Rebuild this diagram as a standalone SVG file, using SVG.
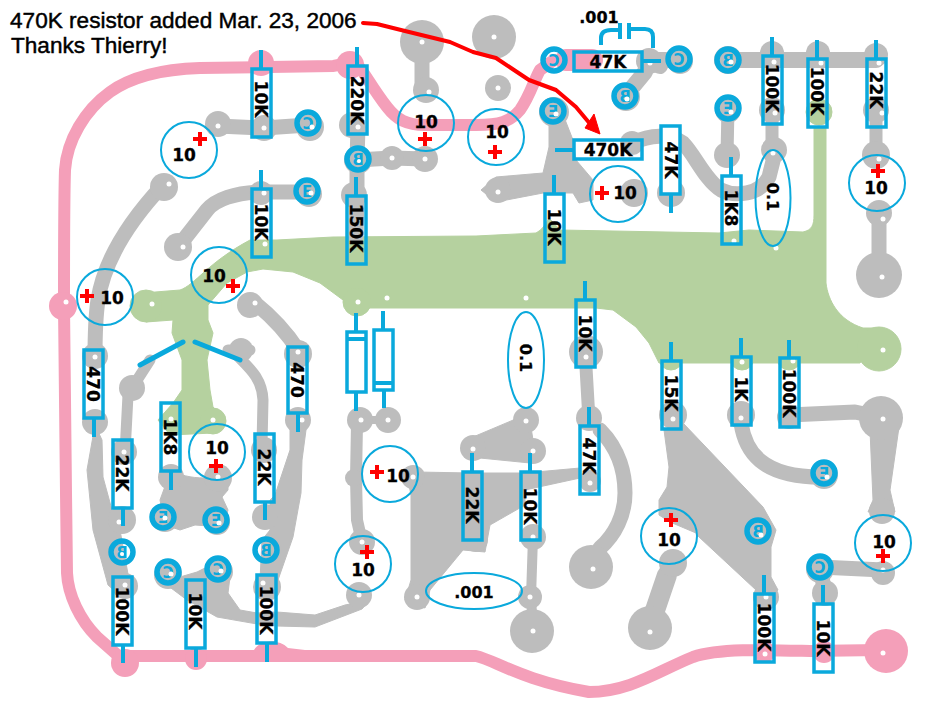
<svg xmlns="http://www.w3.org/2000/svg" xmlns:xlink="http://www.w3.org/1999/xlink" width="952" height="720" viewBox="0 0 952 720">
<style>
.bg{fill:#fff}
.pk{fill:none;stroke:#f49fb9;stroke-width:12;stroke-linejoin:round;stroke-linecap:round}
.pf{fill:#f49fb9}
.gn{fill:#b5d19f;stroke:#b5d19f;stroke-width:1;stroke-linejoin:round}
.gy{fill:none;stroke:#bdbdbd;stroke-width:15;stroke-linejoin:round;stroke-linecap:round}
.gf{fill:#bdbdbd;stroke:#bdbdbd;stroke-width:1;stroke-linejoin:round}
.h{fill:#fff}
.r{fill:none;stroke:#0aa9dc;stroke-width:3.5}
.rw{fill:#fff;stroke:#0aa9dc;stroke-width:3.5}
.l{fill:none;stroke:#0aa9dc;stroke-width:4}
.c{fill:none;stroke:#0aa9dc;stroke-width:2}
.q{fill:none;stroke:#0aa9dc;stroke-width:5.5}
.t{font-family:"DejaVu Sans",sans-serif;font-weight:700;font-size:17px;fill:#000;stroke:#000;stroke-width:.3;text-anchor:middle}
.s{font-size:16px}
.ql{font-family:"DejaVu Sans",sans-serif;font-weight:700;font-size:15px;fill:#0aa9dc;text-anchor:middle}
.n{font-family:"Liberation Sans",Arial,sans-serif;font-size:22.6px;fill:#000;stroke:#000;stroke-width:.45}
.plus{stroke:#f00;stroke-width:4;fill:none}
.arrow{fill:none;stroke:#f00;stroke-width:4;stroke-linejoin:round;stroke-linecap:round}
</style>
<defs>
<path id="pl" class="plus" d="M-7,0H7M0,-7V7"/>
</defs>
<rect class="bg" width="952" height="720"/>

<g id="pink-traces">
<path class="pk" d="M64,306C64,250 64,200 65,170C67,140 85,110 110,92C135,74 170,69 200,68L333,66C345,65 350,58 355,62C362,68 372,88 387,107C397,120 407,125 425,125H476C500,125 510,122 520,110C530,96 535,78 540,70L554,60"/>
<path class="pk" d="M64,306L66,493L67,573C68,595 80,620 97,637L123,660"/>
<path class="pk" d="M125,656H476C495,660 520,680 589,692C630,692 660,670 693,657C720,648 770,650 810,651L880,650"/>
<path class="pk" style="stroke-width:22" d="M566,60H592"/>
<circle class="pf" cx="63" cy="306" r="14"/>
<circle class="pf" cx="261" cy="63" r="13"/>
<circle class="pf" cx="350" cy="65" r="14"/>
<circle class="pf" cx="125" cy="663" r="14"/>
<circle class="pf" cx="196" cy="659" r="11"/>
<path class="pf" d="M253,652C258,640 278,638 288,648L305,650V662H253Z"/>
<circle class="pf" cx="886" cy="651" r="22"/>
<circle class="pf" cx="764" cy="652" r="11"/>
<circle class="pf" cx="824" cy="652" r="11"/>
</g>

<g id="green-plane">
<path class="gn" d="M143,293L180,290C195,285 207,263 250,240H277L333,237L476,236L536,233C542,230 545,225 549,218L560,230L719,233L749,230L803,232C812,230 814,225 814,215V127H826V283C828,300 838,320 863,328H883L860,363H659L649,343L636,327L613,310L596,308L367,308L343,300L320,283L293,272L263,269L247,272L227,283L208,305V320L213,333L207,360L210,390L213,407L226,420L213,433L170,435L158,420L173,403L182,390V360L172,333L173,320L146,322L130,305Z"/>
<circle class="gn" cx="146" cy="306" r="16"/>
<circle class="gn" cx="357" cy="302" r="14"/>
<circle class="gn" cx="819" cy="112" r="13"/>
<circle class="gn" cx="879" cy="349" r="22"/>
<circle class="gn" cx="213" cy="421" r="13"/>
<circle class="gn" cx="742" cy="358" r="12"/>
<circle class="gn" cx="789" cy="358" r="12"/>
<circle class="gn" cx="671" cy="358" r="12"/>
</g>

<g id="gray-traces">
<path class="gy" d="M422,42V90"/>
<path class="gy" d="M218,126L264,128L308,125"/>
<path class="gy" d="M358,127L357,160V195L356,236"/>
<path class="gy" d="M308,192H263C235,192 215,200 207,210L178,247"/>
<path class="gy" d="M357,160L392,158L425,159"/>
<path class="gy" d="M163,185C135,215 105,255 98,300C95,320 95,340 95,357"/>
<path class="gy" d="M255,303C270,315 285,330 298,350"/>
<path class="gy" style="stroke-width:11" d="M132,388L150,360M128,395L125,453"/>
<path class="gy" style="stroke-width:11" d="M228,350H250M232,350C245,365 262,375 263,400L262,445"/>
<path class="gf" d="M95,425L87,470L93,530L108,585L125,600L130,585L120,530L112,510L103,477L102,440Z"/>
<path class="gf" d="M290,430H306L302,460L301,493L293,537L278,580H260L262,540L270,530V500L275,495L290,450Z"/>
<path class="gf" d="M171,470C180,475 190,478 205,478C212,478 220,474 228,470L228,490L222,497L228,510L223,527L195,525L180,530L165,525L160,500Z"/>
<path class="gf" d="M163,582L180,577L197,572L207,567L230,577L228,593L240,610L257,613L277,612L315,615L345,605L370,600L362,609L315,627L277,626L257,624L217,617L187,600Z"/>
<path class="gy" style="stroke-width:12" d="M357,424L356,478L357,520L362,542"/>
<path class="gy" style="stroke-width:8" d="M360,420H388"/>
<path class="gf" d="M473,437L518,418L530,421L533,440L540,451L530,463L480,458Z"/>
<path class="gf" d="M417,472L470,473H525L525,505L490,525L485,552L463,550L430,590L425,608L405,600L411,580V495L408,480Z"/>
<path class="gf" d="M525,473L580,468V478L525,490Z"/>
<path class="gy" style="stroke-width:10" d="M533,537L531,597L533,631"/>
<path class="gy" style="stroke-width:13" d="M585,350L589,420"/>
<path class="gy" d="M600,430C620,450 625,475 625,493C625,515 615,535 600,548"/>
<path class="gf" d="M664,430L669,467L667,487L659,500L659,515L670,522L696,533L699,537L756,590L765,600L778,590L771,577V547L776,530L763,507L683,423Z"/>
<path class="gy" style="stroke-width:20" d="M667,575L650,625"/>
<path class="gy" d="M741,423C745,450 760,478 824,477"/>
<path class="gy" d="M789,415L855,412L883,418"/>
<path class="gf" d="M870,430L873,500L868,512H895L890,490L900,420Z"/>
<path class="gy" d="M820,567L883,570M820,567L825,593"/>
<path class="gy" style="stroke-width:16" d="M626,95L645,72M649,60H679M648,62L660,66"/>
<path class="gy" style="stroke-width:16" d="M728,60H876"/>
<path class="gf" d="M549,120V147L543,173L496,177L481,190L496,202L543,193H573L579,203L593,200V180L576,160L573,140L564,117Z"/>
<path class="gy" d="M632,143C650,135 670,133 683,143C695,155 705,180 721,190C735,197 760,195 769,177L775,153"/>
<path class="gy" style="stroke-width:13" d="M772,110V150"/>
<path class="gy" style="stroke-width:13" d="M728,108L727,155"/>
<path class="gy" style="stroke-width:13" d="M876,110V155"/>
<path class="gy" d="M879,213V275"/>
<g class="gf" style="stroke:none">
<circle cx="494" cy="37" r="22"/><circle cx="498" cy="88" r="13"/>
<circle cx="422" cy="42" r="22"/><circle cx="426" cy="90" r="13"/>
<circle cx="218" cy="124" r="13"/><circle cx="264" cy="128" r="13"/><circle cx="310" cy="127" r="14"/>
<circle cx="352" cy="125" r="13"/><circle cx="358" cy="160" r="14"/><circle cx="354" cy="195" r="13"/>
<circle cx="392" cy="158" r="12"/><circle cx="425" cy="159" r="13"/>
<circle cx="164" cy="187" r="14"/><circle cx="178" cy="247" r="14"/>
<circle cx="261" cy="193" r="12"/><circle cx="309" cy="194" r="13"/>
<circle cx="250" cy="305" r="13"/><circle cx="298" cy="354" r="14"/><circle cx="298" cy="420" r="13"/>
<circle cx="95" cy="356" r="13"/><circle cx="95" cy="422" r="13"/>
<circle cx="132" cy="388" r="13"/><circle cx="124" cy="452" r="13"/><circle cx="122" cy="520" r="14"/><circle cx="125" cy="586" r="13"/>
<circle cx="241" cy="350" r="12"/><circle cx="264" cy="450" r="13"/><circle cx="265" cy="517" r="13"/><circle cx="267" cy="587" r="14"/>
<circle cx="171" cy="477" r="13"/><circle cx="218" cy="478" r="14"/><circle cx="165" cy="518" r="14"/><circle cx="217" cy="522" r="13"/>
<circle cx="168" cy="575" r="14"/><circle cx="219" cy="572" r="14"/><circle cx="359" cy="595" r="13"/>
<circle cx="360" cy="420" r="13"/><circle cx="388" cy="420" r="13"/><circle cx="354" cy="478" r="9"/><circle cx="362" cy="542" r="13"/>
<circle cx="417" cy="597" r="13"/><circle cx="413" cy="477" r="12"/><circle cx="473" cy="448" r="13"/>
<circle cx="526" cy="420" r="13"/><circle cx="533" cy="451" r="13"/><circle cx="476" cy="540" r="12"/><circle cx="533" cy="537" r="13"/><circle cx="530" cy="597" r="12"/><circle cx="532" cy="631" r="22"/>
<circle cx="586" cy="352" r="17"/><circle cx="589" cy="418" r="13"/><circle cx="590" cy="481" r="11"/><circle cx="591" cy="567" r="22"/>
<circle cx="673" cy="415" r="14"/><circle cx="650" cy="628" r="22"/><circle cx="673" cy="563" r="14"/>
<circle cx="741" cy="415" r="14"/><circle cx="789" cy="417" r="12"/><circle cx="881" cy="418" r="22"/><circle cx="824" cy="475" r="14"/>
<circle cx="882" cy="511" r="13"/><circle cx="883" cy="573" r="12"/><circle cx="820" cy="569" r="14"/><circle cx="825" cy="593" r="13"/>
<circle cx="759" cy="533" r="14"/><circle cx="766" cy="597" r="13"/>
<circle cx="554" cy="112" r="15"/><circle cx="498" cy="190" r="13"/><circle cx="634" cy="193" r="14"/><circle cx="632" cy="143" r="12"/><circle cx="671" cy="193" r="14"/>
<circle cx="626" cy="97" r="14"/><circle cx="649" cy="61" r="13"/><circle cx="680" cy="61" r="13"/>
<circle cx="728" cy="60" r="14"/><circle cx="772" cy="53" r="12"/><circle cx="818" cy="53" r="12"/><circle cx="876" cy="55" r="12"/>
<circle cx="772" cy="110" r="13"/><circle cx="774" cy="150" r="13"/><circle cx="728" cy="110" r="13"/><circle cx="727" cy="155" r="13"/>
<circle cx="876" cy="110" r="13"/><circle cx="876" cy="155" r="14"/><circle cx="879" cy="213" r="13"/><circle cx="879" cy="275" r="23"/>
</g>
</g>

<g id="holes" class="h">
<circle cx="218" cy="126" r="2.5"/><circle cx="264" cy="128" r="2.5"/><circle cx="358" cy="127" r="2.5"/><circle cx="392" cy="158" r="2.5"/><circle cx="425" cy="159" r="2.5"/><circle cx="422" cy="42" r="2.5"/><circle cx="429" cy="92" r="2.5"/><circle cx="169" cy="184" r="2.5"/><circle cx="183" cy="247" r="2.5"/><circle cx="264" cy="193" r="2.5"/><circle cx="265" cy="244" r="2.5"/><circle cx="255" cy="303" r="2.5"/><circle cx="358" cy="302" r="2.5"/><circle cx="387" cy="298" r="2.5"/><circle cx="152" cy="304" r="2.5"/><circle cx="66" cy="302" r="2.5"/>
<circle cx="494" cy="37" r="2.5"/><circle cx="498" cy="88" r="2.5"/><circle cx="650" cy="63" r="2.5"/><circle cx="774" cy="62" r="2.5"/><circle cx="821" cy="63" r="2.5"/><circle cx="879" cy="63" r="2.5"/><circle cx="775" cy="113" r="2.5"/><circle cx="882" cy="113" r="2.5"/><circle cx="773" cy="153" r="2.5"/><circle cx="879" cy="159" r="2.5"/><circle cx="883" cy="219" r="2.5"/><circle cx="882" cy="277" r="2.5"/><circle cx="734" cy="241" r="2.5"/><circle cx="776" cy="248" r="2.5"/><circle cx="526" cy="298" r="2.5"/><circle cx="883" cy="350" r="2.5"/><circle cx="498" cy="192" r="2.5"/>
<circle cx="95" cy="357" r="2.5"/><circle cx="302" cy="420" r="2.5"/><circle cx="298" cy="352" r="2.5"/><circle cx="124" cy="452" r="2.5"/><circle cx="119" cy="522" r="2.5"/><circle cx="125" cy="585" r="2.5"/><circle cx="171" cy="419" r="2.5"/><circle cx="213" cy="420" r="2.5"/><circle cx="218" cy="477" r="2.5"/><circle cx="263" cy="583" r="2.5"/><circle cx="361" cy="420" r="2.5"/><circle cx="388" cy="420" r="2.5"/><circle cx="362" cy="542" r="2.5"/><circle cx="359" cy="595" r="2.5"/><circle cx="413" cy="477" r="2.5"/><circle cx="417" cy="597" r="2.5"/><circle cx="473" cy="449" r="2.5"/>
<circle cx="526" cy="421" r="2.5"/><circle cx="533" cy="451" r="2.5"/><circle cx="533" cy="537" r="2.5"/><circle cx="530" cy="597" r="2.5"/><circle cx="533" cy="631" r="2.5"/><circle cx="590" cy="483" r="2.5"/><circle cx="593" cy="569" r="2.5"/><circle cx="586" cy="357" r="2.5"/><circle cx="673" cy="419" r="2.5"/><circle cx="650" cy="632" r="2.5"/><circle cx="741" cy="418" r="2.5"/><circle cx="883" cy="419" r="2.5"/><circle cx="766" cy="597" r="2.5"/><circle cx="765" cy="654" r="2.5"/><circle cx="883" cy="653" r="2.5"/><circle cx="742" cy="362" r="2.5"/><circle cx="793" cy="361" r="2.5"/><circle cx="883" cy="570" r="2.5"/>
</g>

<g id="resistors">
<rect class="r" x="252" y="69" width="19" height="68"/><path class="l" d="M261,50V69"/>
<rect class="r" x="348" y="66" width="19" height="68"/><path class="l" d="M357,47V66"/>
<rect class="r" x="252" y="189" width="19" height="68"/><path class="l" d="M261,170V189"/>
<rect class="r" x="347" y="196" width="19" height="68"/><path class="l" d="M356,177V196"/>
<rect class="r" x="84" y="350" width="19" height="68"/><path class="l" d="M94,418V437"/>
<rect class="r" x="288" y="347" width="19" height="66"/><path class="l" d="M298,413V432"/>
<rect class="r" x="113" y="440" width="19" height="68"/><path class="l" d="M123,508V526"/>
<rect class="r" x="161" y="403" width="19" height="68"/><path class="l" d="M171,471V490"/>
<rect class="r" x="255" y="434" width="19" height="68"/><path class="l" d="M265,502V520"/>
<rect class="r" x="113" y="577" width="19" height="68"/><path class="l" d="M123,645V663"/>
<rect class="r" x="186" y="580" width="19" height="68"/><path class="l" d="M196,648V667"/>
<rect class="r" x="257" y="575" width="19" height="68"/><path class="l" d="M267,643V662"/>
<rect class="r" x="463" y="472" width="19" height="68"/><path class="l" d="M472,453V472"/>
<rect class="r" x="521" y="472" width="19" height="68"/><path class="l" d="M530,453V472"/>
<rect class="r" x="580" y="426" width="19" height="68"/><path class="l" d="M589,407V426"/>
<rect class="r" x="662" y="361" width="19" height="68"/><path class="l" d="M671,342V361"/>
<rect class="r" x="732" y="357" width="19" height="68"/><path class="l" d="M741,338V357"/>
<rect class="r" x="780" y="358" width="19" height="69"/><path class="l" d="M789,340V358"/>
<rect class="r" x="755" y="594" width="19" height="68"/><path class="l" d="M764,575V594"/>
<rect class="r" x="814" y="604" width="19" height="68"/><path class="l" d="M823,585V604"/>
<rect class="r" x="576" y="300" width="19" height="67"/><path class="l" d="M585,281V300"/>
<rect class="r" x="545" y="194" width="19" height="68"/><path class="l" d="M554,175V194"/>
<rect class="r" x="574" y="52" width="68" height="19"/><path class="l" d="M642,61H661"/>
<rect class="r" x="574" y="140" width="68" height="19"/><path class="l" d="M555,150H574"/>
<rect class="rw" x="661" y="126" width="19" height="68"/><path class="l" d="M671,194V213"/>
<rect class="r" x="722" y="176" width="19" height="68"/><path class="l" d="M731,157V176"/>
<rect class="r" x="763" y="56" width="19" height="68"/><path class="l" d="M772,37V56"/>
<rect class="r" x="808" y="59" width="19" height="68"/><path class="l" d="M817,40V59"/>
<rect class="r" x="867" y="59" width="19" height="68"/><path class="l" d="M876,40V59"/>
</g>

<g id="capacitors">
<rect class="r" x="347" y="332" width="19" height="60"/><path class="l" d="M356,313V332M356,392V411M347,339H366"/>
<rect class="r" x="374" y="330" width="19" height="60"/><path class="l" d="M383,311V330M384,390V408M374,383H393"/>
<path class="l" d="M601,45V38Q601,30 611,30H620M620,23V39M629,23V39M631,29H645Q653,29 653,37V48"/>
<path class="l" style="stroke-width:5;stroke-linecap:round" d="M140,365L183,342M195,342L240,360"/>
<circle class="c" cx="189" cy="150" r="28"/><circle class="c" cx="426" cy="123" r="28"/><circle class="c" cx="496" cy="137" r="28"/><circle class="c" cx="105" cy="297" r="28"/><circle class="c" cx="219" cy="275" r="28"/><circle class="c" cx="217" cy="452" r="28"/><circle class="c" cx="390" cy="474" r="28"/><circle class="c" cx="363" cy="564" r="28"/><circle class="c" cx="669" cy="536" r="28"/><circle class="c" cx="883" cy="543" r="28"/><circle class="c" cx="618" cy="194" r="28"/><circle class="c" cx="877" cy="183" r="28"/>
<ellipse class="c" cx="773" cy="198" rx="17.5" ry="48"/><ellipse class="c" cx="526" cy="360" rx="18" ry="48"/><ellipse class="c" cx="474" cy="591" rx="48" ry="18"/>
<use xlink:href="#pl" href="#pl" x="200" y="139"/><use xlink:href="#pl" href="#pl" x="425" y="139"/><use xlink:href="#pl" href="#pl" x="495" y="152"/><use xlink:href="#pl" href="#pl" x="87" y="296"/><use xlink:href="#pl" href="#pl" x="233" y="286"/><use xlink:href="#pl" href="#pl" x="216" y="466"/><use xlink:href="#pl" href="#pl" x="377" y="472"/><use xlink:href="#pl" href="#pl" x="367" y="552"/><use xlink:href="#pl" href="#pl" x="671" y="520"/><use xlink:href="#pl" href="#pl" x="883" y="556"/><use xlink:href="#pl" href="#pl" x="602" y="193"/><use xlink:href="#pl" href="#pl" x="878" y="171"/>
</g>

<g id="transistors">
<g id="q-c"><circle class="q" cx="308" cy="123" r="11"/><circle class="q" cx="554" cy="60" r="11"/><circle class="q" cx="679" cy="59" r="11"/><circle class="q" cx="168" cy="572" r="11"/><circle class="q" cx="218" cy="569" r="11"/><circle class="q" cx="820" cy="567" r="11"/>
<g class="ql"><text transform="translate(308,129) scale(-1,1)">C</text><text transform="translate(554,66) scale(-1,1)">C</text><text transform="translate(679,65) scale(-1,1)">C</text><text transform="translate(168,578) scale(-1,1)">C</text><text transform="translate(218,575) scale(-1,1)">C</text><text transform="translate(820,573) scale(-1,1)">C</text></g></g>
<g id="q-e"><circle class="q" cx="307" cy="191" r="11"/><circle class="q" cx="553" cy="111" r="11"/><circle class="q" cx="728" cy="108" r="11"/><circle class="q" cx="163" cy="517" r="11"/><circle class="q" cx="216" cy="520" r="11"/><circle class="q" cx="824" cy="473" r="11"/>
<g class="ql"><text transform="translate(307,197)">E</text><text transform="translate(553,117) scale(-1,1)">E</text><text transform="translate(728,114) scale(-1,1)">E</text><text transform="translate(163,523) scale(-1,1)">E</text><text transform="translate(216,526) scale(-1,1)">E</text><text transform="translate(824,479) scale(-1,1)">E</text></g></g>
<g id="q-b"><circle class="q" cx="358" cy="159" r="11"/><circle class="q" cx="625" cy="96" r="11"/><circle class="q" cx="728" cy="60" r="11"/><circle class="q" cx="122" cy="552" r="11"/><circle class="q" cx="266" cy="550" r="11"/><circle class="q" cx="758" cy="531" r="11"/>
<g class="ql"><text transform="translate(358,165) scale(-1,1)">B</text><text transform="translate(625,102) scale(-1,1)">B</text><text transform="translate(728,66) scale(-1,1)">B</text><text transform="translate(122,558) scale(-1,1)">B</text><text transform="translate(266,556) scale(-1,1)">B</text><text transform="translate(758,537) scale(-1,1)">B</text></g></g>
<g class="h"><circle cx="312" cy="127" r="2.5"/><circle cx="311" cy="193" r="2.5"/><circle cx="359" cy="161" r="2"/><circle cx="627" cy="99" r="2.5"/><circle cx="731" cy="62" r="2.5"/><circle cx="556" cy="114" r="2.5"/><circle cx="731" cy="112" r="2.5"/><circle cx="165" cy="518" r="2.5"/><circle cx="219" cy="523" r="2.5"/><circle cx="122" cy="554" r="2"/><circle cx="827" cy="477" r="2.5"/><circle cx="761" cy="535" r="2.5"/><circle cx="171" cy="574" r="2.5"/><circle cx="221" cy="571" r="2.5"/></g>
</g>

<g id="labels">
<text class="t" transform="rotate(90 261 99)" x="261" y="105">10K</text>
<text class="t" transform="rotate(90 357 100)" x="357" y="106">220K</text>
<text class="t" transform="rotate(90 261 222)" x="261" y="228">10K</text>
<text class="t" transform="rotate(90 356 228)" x="356" y="234">150K</text>
<text class="t" transform="rotate(90 93 384)" x="93" y="390">470</text>
<text class="t" transform="rotate(90 297 380)" x="297" y="386">470</text>
<text class="t" transform="rotate(90 122 473)" x="122" y="479">22K</text>
<text class="t" transform="rotate(90 170 437)" x="170" y="443">1K8</text>
<text class="t" transform="rotate(90 264 467)" x="264" y="473">22K</text>
<text class="t" transform="rotate(90 122 611)" x="122" y="617">100K</text>
<text class="t" transform="rotate(90 195 611)" x="195" y="617">10K</text>
<text class="t" transform="rotate(90 266 610)" x="266" y="616">100K</text>
<text class="t" transform="rotate(90 472 505)" x="472" y="511">22K</text>
<text class="t" transform="rotate(90 530 506)" x="530" y="512">10K</text>
<text class="t" transform="rotate(90 589 456)" x="589" y="462">47K</text>
<text class="t" transform="rotate(90 671 393)" x="671" y="399">15K</text>
<text class="t" transform="rotate(90 741 389)" x="741" y="395">1K</text>
<text class="t" transform="rotate(90 789 393)" x="789" y="399">100K</text>
<text class="t" transform="rotate(90 764 627)" x="764" y="633">100K</text>
<text class="t" transform="rotate(90 823 638)" x="823" y="644">10K</text>
<text class="t" transform="rotate(90 585 333)" x="585" y="339">10K</text>
<text class="t" transform="rotate(90 554 227)" x="554" y="233">10K</text>
<text class="t" x="608" y="68">47K</text>
<text class="t" x="608" y="156">470K</text>
<text class="t" transform="rotate(90 671 160)" x="671" y="166">47K</text>
<text class="t" transform="rotate(90 731 208)" x="731" y="214">1K8</text>
<text class="t" transform="rotate(90 772 88)" x="772" y="94">100K</text>
<text class="t" transform="rotate(90 817 91)" x="817" y="97">100K</text>
<text class="t" transform="rotate(90 876 90)" x="876" y="96">22K</text>
<text class="t s" x="599" y="23">.001</text>
<text class="t s" x="474" y="598">.001</text>
<text class="t s" transform="rotate(90 773 197)" x="773" y="203">0.1</text>
<text class="t s" transform="rotate(90 526 358)" x="526" y="364">0.1</text>
<text class="t" x="184" y="161">10</text><text class="t" x="426" y="128">10</text><text class="t" x="497" y="138">10</text><text class="t" x="112" y="304">10</text><text class="t" x="214" y="282">10</text><text class="t" x="217" y="454">10</text><text class="t" x="398" y="482">10</text><text class="t" x="363" y="576">10</text><text class="t" x="669" y="546">10</text><text class="t" x="884" y="548">10</text><text class="t" x="625" y="199">10</text><text class="t" x="876" y="194">10</text>
<text class="n" x="10" y="28">470K resistor added Mar. 23, 2006</text>
<text class="n" x="11" y="53">Thanks Thierry!</text>
</g>

<g id="note-arrow">
<path class="arrow" d="M363,23L377,24L405,31L450,42L473,52L496,58L529,80L556,90L576,107L591,125"/>
<path d="M600,134L585,128L594,114Z" fill="#f00" stroke="#f00" stroke-width="1"/>
</g>
</svg>
